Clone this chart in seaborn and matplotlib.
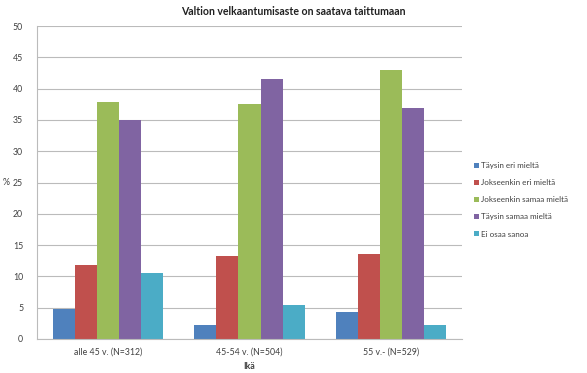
import numpy as np
import pandas as pd
import matplotlib
matplotlib.use('Agg')
import matplotlib.pyplot as plt
import seaborn as sns

# Data
groups = ['alle 45 v. (N=312)', '45-54 v. (N=504)', '55 v.- (N=529)']
answers = ['Täysin eri mieltä', 'Jokseenkin eri mieltä', 'Jokseenkin samaa mieltä',
           'Täysin samaa mieltä', 'Ei osaa sanoa']
taysin_eri = [4.8, 2.2, 4.3]
jokseenkin_eri = [11.8, 13.2, 13.6]
jokseenkin_samaa = [37.8, 37.5, 42.9]
taysin_samaa = [35.0, 41.6, 36.9]
ei_osaa = [10.5, 5.4, 2.3]
colors = ['#4F81BD', '#C0504D', '#9BBB59', '#8064A2', '#4BACC6']

rows = []
for vals, ans in zip([taysin_eri, jokseenkin_eri, jokseenkin_samaa, taysin_samaa, ei_osaa], answers):
    for g, v in zip(groups, vals):
        rows.append({'Ikä': g, 'Vastaus': ans, '%': v})
df = pd.DataFrame(rows)

sns.set_style('white')
plt.rcParams['font.family'] = ['Lato', 'DejaVu Sans']

fig = plt.figure(figsize=(5.87, 3.73), dpi=100)
ax = fig.add_axes([37 / 587, 34 / 373, 425 / 587, 313 / 373])

sns.barplot(data=df, x='Ikä', y='%', hue='Vastaus', hue_order=answers, order=groups,
            palette=colors, width=0.78, gap=0, saturation=1, ax=ax, edgecolor='none')

ax.set_ylim(0, 50)
ax.set_yticks(np.arange(0, 51, 5))
ax.set_xlim(-0.5, 2.5)
ax.grid(axis='y', color='#BBBBBB', linewidth=0.8)
ax.set_axisbelow(True)
for s in ['top', 'right']:
    ax.spines[s].set_visible(False)
for s in ['left', 'bottom']:
    ax.spines[s].set_color('#BBBBBB')
    ax.spines[s].set_linewidth(0.8)

ax.tick_params(axis='x', labelsize=6.3, colors='#404040', length=0, pad=6)
ax.set_xticks([-0.5, 0.5, 1.5, 2.5], minor=True)
ax.tick_params(axis='x', which='minor', length=3, color='#BBBBBB')
ax.tick_params(axis='y', labelsize=6.3, colors='#404040', length=3, color='#BBBBBB', pad=7)

ax.set_xlabel('Ikä', fontsize=6.3, fontweight='bold', color='#404040', labelpad=4)
ax.set_ylabel('%', fontsize=6.3, rotation=0, color='#404040', va='center', ha='center')
ax.yaxis.set_label_coords(-0.072, 0.5)
fig.suptitle('Valtion velkaantumisaste on saatava taittumaan', x=0.5, y=0.985,
             fontsize=7.6, fontweight='bold', color='#202020')

leg = ax.legend(loc='upper left', bbox_to_anchor=(1.02, 0.575), frameon=False,
                fontsize=5.8, handlelength=0.6, handleheight=0.6, handletextpad=0.3,
                labelspacing=1.25, borderaxespad=0)
for t in leg.get_texts():
    t.set_color('#404040')

fig.savefig('out.png', dpi=100)
